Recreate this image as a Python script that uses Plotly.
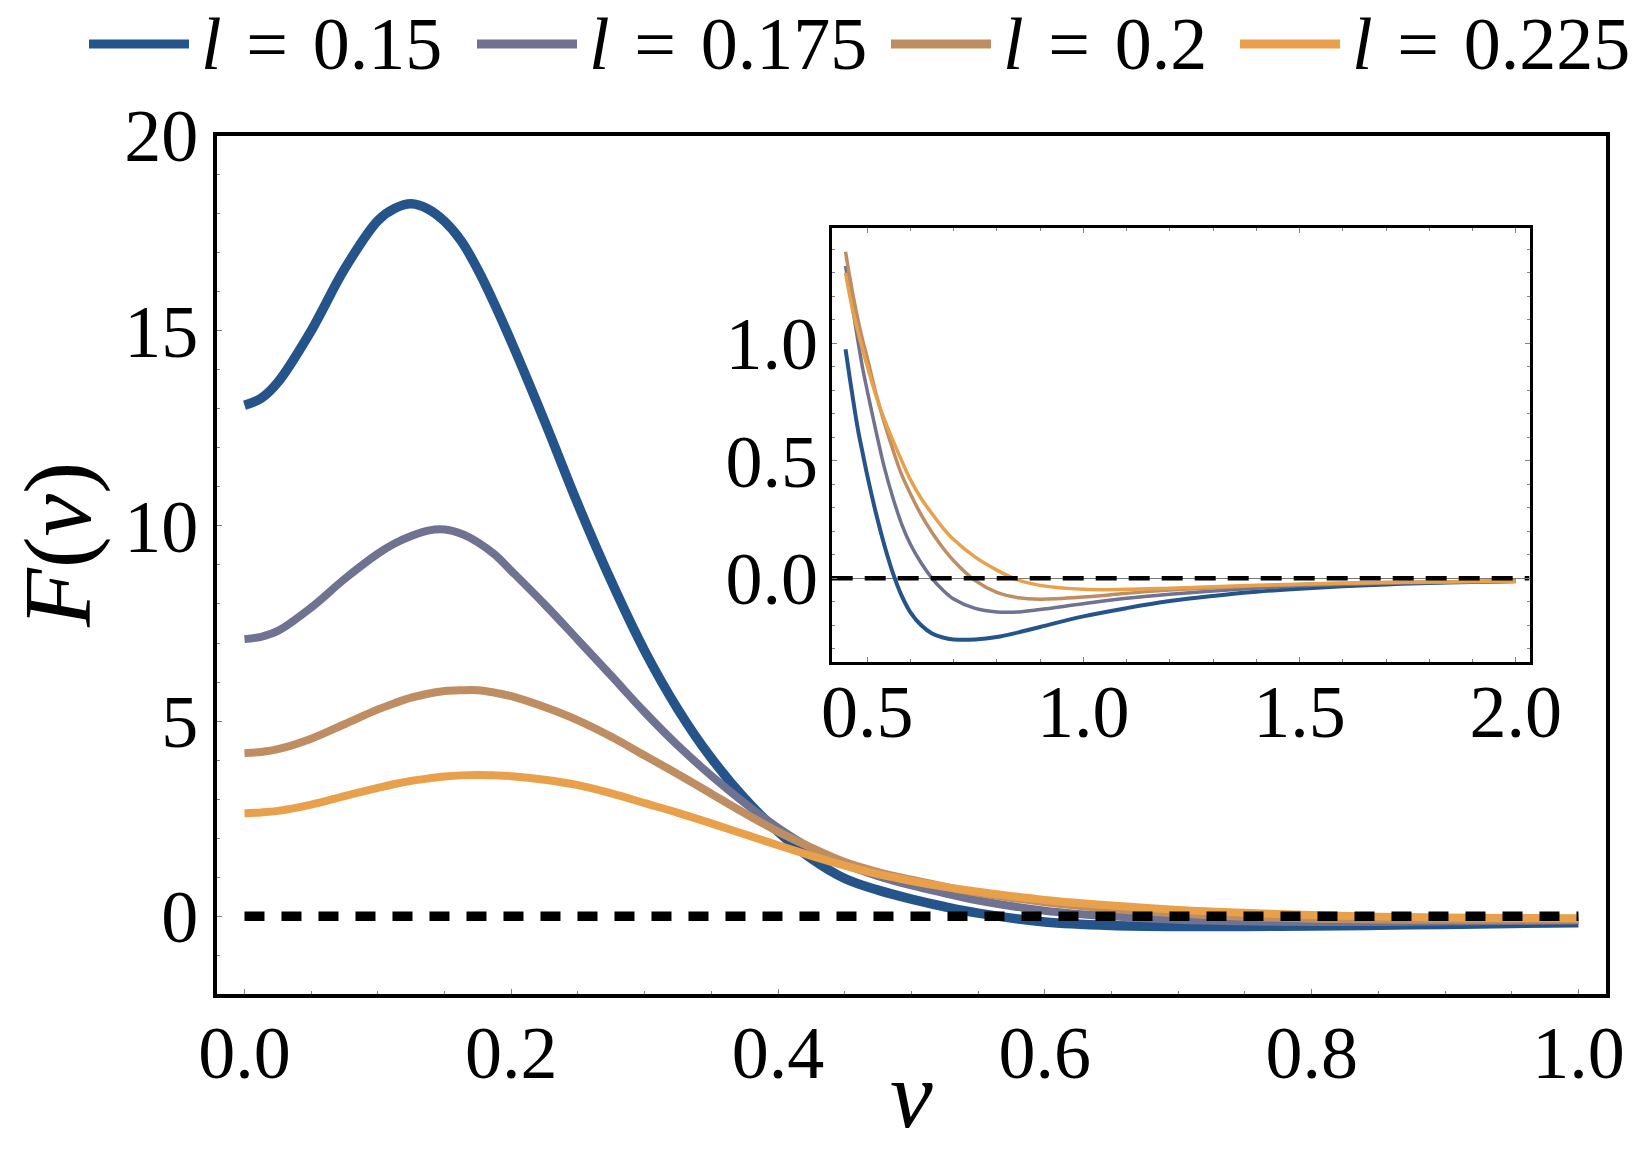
import plotly.graph_objects as go

# ---- data ----
# main panel
main_v = [0, 0.0125, 0.025, 0.05, 0.075, 0.1, 0.1125, 0.125, 0.1375, 0.15, 0.1625, 0.175,
          0.1875, 0.2, 0.225, 0.25, 0.275, 0.3, 0.325, 0.35, 0.375, 0.4, 0.425, 0.45,
          0.475, 0.5, 0.525, 0.55, 0.6, 0.65, 0.7, 0.75, 0.8, 0.85, 0.9, 0.95, 1.0]
F_main_015 = [13.09, 13.27, 13.68, 15.0, 16.58, 17.82, 18.13, 18.25, 18.12, 17.8, 17.3, 16.56,
              15.68, 14.72, 12.68, 10.55, 8.58, 6.8, 5.3, 4.05, 3.02, 2.17, 1.48, 0.97,
              0.67, 0.44, 0.245, 0.08, -0.145, -0.235, -0.26, -0.26, -0.25, -0.23, -0.207, -0.184, -0.162]
F_main_0175 = [7.10, 7.16, 7.31, 7.91, 8.64, 9.29, 9.55, 9.74, 9.88, 9.91, 9.80, 9.58,
               9.27, 8.85, 7.99, 7.08, 6.16, 5.23, 4.37, 3.6, 2.9, 2.27, 1.74, 1.33,
               1.03, 0.79, 0.59, 0.405, 0.145, 0.0, -0.088, -0.128, -0.143, -0.143, -0.133, -0.12, -0.108]
F_main_02 = [4.18, 4.21, 4.28, 4.55, 4.92, 5.30, 5.46, 5.60, 5.70, 5.77, 5.79, 5.79,
             5.73, 5.64, 5.36, 5.02, 4.60, 4.12, 3.64, 3.14, 2.64, 2.17, 1.76, 1.39,
             1.135, 0.94, 0.76, 0.60, 0.36, 0.195, 0.075, -0.01, -0.06, -0.083, -0.089, -0.086, -0.08]
F_main_0225 = [2.64, 2.66, 2.70, 2.86, 3.08, 3.29, 3.39, 3.47, 3.53, 3.58, 3.61, 3.62,
               3.61, 3.59, 3.50, 3.36, 3.15, 2.9, 2.65, 2.38, 2.1, 1.82, 1.55, 1.3,
               1.08, 0.905, 0.755, 0.63, 0.42, 0.275, 0.165, 0.09, 0.035, -0.008, -0.03, -0.042, -0.047]

# inset panel
inset_v = [0.45, 0.46, 0.47, 0.48, 0.49, 0.5, 0.52, 0.54, 0.56, 0.58, 0.6, 0.625, 0.65,
           0.675, 0.7, 0.75, 0.8, 0.85, 0.9, 1.0, 1.1, 1.2, 1.3, 1.4, 1.5, 1.6, 1.7,
           1.8, 1.9, 2.0]
F_inset_015 = [0.975, 0.85, 0.73, 0.62, 0.53, 0.44, 0.28, 0.14, 0.02, -0.075, -0.145, -0.2,
               -0.235, -0.252, -0.26, -0.26, -0.25, -0.23, -0.207, -0.162, -0.127, -0.097,
               -0.075, -0.057, -0.044, -0.034, -0.026, -0.02, -0.016, -0.013]
F_inset_0175 = [1.33, 1.22, 1.11, 0.995, 0.89, 0.80, 0.63, 0.47, 0.34, 0.23, 0.145, 0.065,
                0.0, -0.05, -0.088, -0.128, -0.143, -0.143, -0.133, -0.108, -0.085, -0.068,
                -0.054, -0.042, -0.032, -0.026, -0.021, -0.018, -0.015, -0.013]
F_inset_02 = [1.39, 1.28, 1.18, 1.09, 1.01, 0.94, 0.79, 0.66, 0.545, 0.44, 0.36, 0.27,
              0.195, 0.13, 0.075, -0.01, -0.06, -0.083, -0.089, -0.08, -0.064, -0.05,
              -0.041, -0.032, -0.026, -0.021, -0.018, -0.016, -0.014, -0.012]
F_inset_0225 = [1.3, 1.2, 1.115, 1.04, 0.97, 0.905, 0.78, 0.675, 0.585, 0.5, 0.42, 0.34,
                0.275, 0.215, 0.165, 0.09, 0.035, -0.008, -0.03, -0.047, -0.047, -0.042,
                -0.036, -0.03, -0.025, -0.021, -0.018, -0.016, -0.014, -0.012]

l_values = ["0.15", "0.175", "0.2", "0.225"]
zero_main_v = [0, 1]
zero_inset_v = [0.418, 2.032]

# ---- styles ----
colors = ["#25548A", "#6F7291", "#BE8E62", "#E9A04A"]
main_widths = [9.5, 8, 8, 8]
inset_widths = [4, 3.5, 3.5, 3.5]
serif = "Liberation Serif"
tick_grey = "#808080"

main_series = [F_main_015, F_main_0175, F_main_02, F_main_0225]
inset_series = [F_inset_015, F_inset_0175, F_inset_02, F_inset_0225]

fig = go.Figure()

for lab, col, w, ys in zip(l_values, colors, main_widths, main_series):
    fig.add_trace(go.Scatter(x=main_v, y=ys, mode="lines", name="l = " + lab,
                             line=dict(color=col, width=w, shape="spline", smoothing=1.0),
                             xaxis="x", yaxis="y", showlegend=False))
fig.add_trace(go.Scatter(x=zero_main_v, y=[0, 0], mode="lines",
                         line=dict(color="black", width=9.5, dash="20px,17px"),
                         xaxis="x", yaxis="y", showlegend=False))

for lab, col, w, ys in zip(l_values, colors, inset_widths, inset_series):
    fig.add_trace(go.Scatter(x=inset_v, y=ys, mode="lines", name="l = " + lab,
                             line=dict(color=col, width=w, shape="spline", smoothing=1.0),
                             xaxis="x2", yaxis="y2", showlegend=False))
fig.add_trace(go.Scatter(x=zero_inset_v, y=[0, 0], mode="lines",
                         line=dict(color="black", width=4.5, dash="21px,12px"),
                         xaxis="x2", yaxis="y2", showlegend=False))

W, H = 1644, 1150

# legend drawn across the top (long line samples like the original)
legend_starts = [89, 477, 891, 1240]
leg_y = 1 - 44 / H
for start, lab, col in zip(legend_starts, l_values, colors):
    fig.add_shape(type="line", xref="paper", yref="paper",
                  x0=start / W, x1=(start + 100) / W, y0=leg_y, y1=leg_y,
                  line=dict(color=col, width=9))
    fig.add_annotation(xref="paper", yref="paper", x=(start + 110) / W, y=leg_y,
                       xanchor="left", yanchor="middle", showarrow=False,
                       text="<i>l</i>\u2004=\u2004" + lab, font=dict(family=serif, size=74))

main_x_dom = [0.132, 0.9769]
main_y_dom = [0.13565, 0.88217]

# axis titles
fig.add_annotation(xref="paper", yref="paper", x=sum(main_x_dom) / 2, y=0,
                   xanchor="center", yanchor="bottom", showarrow=False,
                   text="<i>v</i>", font=dict(family=serif, size=96))
fig.add_annotation(xref="paper", yref="paper", x=58 / W, y=1 - 545 / H,
                   xanchor="center", yanchor="middle", showarrow=False, textangle=-90,
                   text="<i>F</i>(<i>v</i>)", font=dict(family=serif, size=96))

frame = dict(showline=True, linecolor="black", showgrid=False, zeroline=False,
             ticks="inside", tickcolor=tick_grey, tickwidth=1.3, automargin=False)
plain = dict(showgrid=False, zeroline=False, showline=False, showticklabels=False,
             ticks="inside", tickcolor=tick_grey, tickwidth=1.3, automargin=False)

fig.update_layout(
    width=W, height=H,
    margin=dict(l=0, r=0, t=0, b=0, autoexpand=False),
    paper_bgcolor="white", plot_bgcolor="white",
    font=dict(family=serif, size=74, color="black"),
    xaxis=dict(frame, domain=main_x_dom, anchor="y", range=[-0.0206, 1.0207],
               linewidth=4, mirror=True, ticklen=5, tick0=0, dtick=0.2, tickformat=".1f",
               minor=dict(ticks="inside", dtick=0.05, ticklen=3, tickcolor=tick_grey, tickwidth=1.3),
               ticklabelstandoff=-9),
    xaxis3=dict(plain, overlaying="x", anchor="y", side="top", range=[-0.0206, 1.0207],
                ticklen=15, tick0=0, dtick=0.2,
                minor=dict(ticks="inside", dtick=0.05, ticklen=8, tickcolor=tick_grey, tickwidth=1.3)),
    yaxis=dict(frame, domain=main_y_dom, anchor="x", range=[-1.99, 20],
               linewidth=4, mirror=True, ticklen=5, tick0=0, dtick=5,
               minor=dict(ticks="inside", dtick=1, ticklen=3, tickcolor=tick_grey, tickwidth=1.3),
               ticklabelstandoff=0),
    yaxis3=dict(plain, overlaying="y", anchor="x", side="right", range=[-1.99, 20],
                ticklen=13, tick0=0, dtick=5,
                minor=dict(ticks="inside", dtick=1, ticklen=6, tickcolor=tick_grey, tickwidth=1.3)),
    xaxis2=dict(frame, domain=[0.5059, 0.9304], anchor="y2", range=[0.418, 2.032],
                linewidth=3, mirror="allticks", ticklen=5, tick0=0, dtick=0.5, tickformat=".1f",
                minor=dict(ticks="inside", dtick=0.1, ticklen=3, tickcolor=tick_grey, tickwidth=1.3),
                ticklabelstandoff=-17),
    yaxis2=dict(frame, domain=[0.4246, 0.8015], anchor="x2", range=[-0.355, 1.49],
                linewidth=3, mirror="allticks", ticklen=5, tick0=0, dtick=0.5, tickformat=".1f",
                minor=dict(ticks="inside", dtick=0.1, ticklen=3, tickcolor=tick_grey, tickwidth=1.3),
                zeroline=True, zerolinecolor="#777777", zerolinewidth=1.2,
                ticklabelstandoff=-4),
)

# drop the browser's default 8px page margin so the figure sits at the window corner
fig.write_html("out.html", config={"displayModeBar": False},
               post_script="document.body.style.margin='0';")
